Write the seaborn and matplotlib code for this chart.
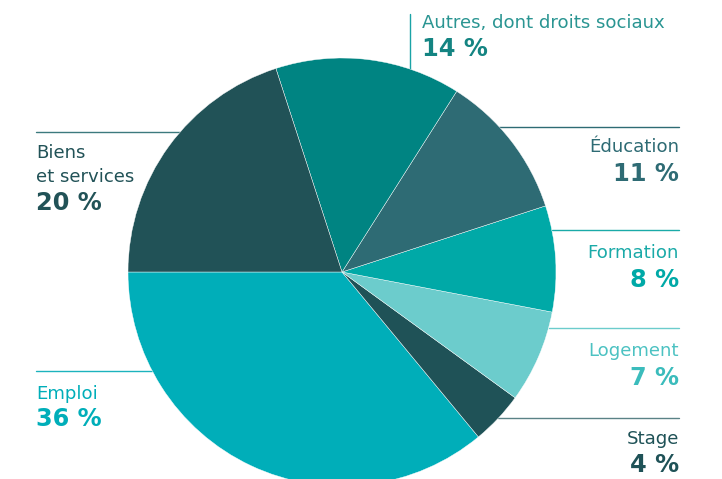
import numpy as np
import matplotlib
matplotlib.use("Agg")
import matplotlib.pyplot as plt
import seaborn as sns

# ---- data ----
categories = ["Emploi", "Stage", "Logement", "Formation", "Éducation",
              "Autres, dont droits sociaux", "Biens\net services"]
values = [36, 4, 7, 8, 11, 14, 20]
slice_colors = ["#00aeb9", "#1f5257", "#6ccccc", "#00a9a7", "#2e6b74",
                "#008482", "#215257"]
pct_labels = ["36 %", "4 %", "7 %", "8 %", "11 %", "14 %", "20 %"]

sns.set_theme(style="white")
plt.rcParams['font.family'] = ['DejaVu Sans']

W, H = 722, 479
fig = plt.figure(figsize=(W / 100, H / 100), dpi=100)
ax = fig.add_axes([0, 0, 1, 1])

def Y(py):
    return H - py

cx, cy, R = 342, 272, 214
ax.pie(values, colors=slice_colors, startangle=180, counterclock=True,
       center=(cx, Y(cy)), radius=R, frame=True,
       wedgeprops=dict(edgecolor="white", linewidth=0.3))
ax.set_xlim(0, W)
ax.set_ylim(0, H)
ax.set_aspect('equal')
ax.axis('off')

def edge_x(py, side):
    dy = py - cy
    return cx + side * np.sqrt(max(R * R - dy * dy, 0))

label_fs = 13.1
pct_fs = 17.3

def put_label(x, ha, lines, baselines, tc, pct, pb, pc):
    for t, b in zip(lines, baselines):
        ax.text(x, Y(b), t, ha=ha, va='baseline', fontsize=label_fs,
                color=tc)
    ax.text(x, Y(pb), pct, ha=ha, va='baseline', fontsize=pct_fs,
            color=pc, fontweight='bold')

# right side labels
right_specs = [
    (4, "#2e6b74", "#2e6b74", "#2e6b74", 127, 152, 181),
    (3, "#1aaaa8", "#00a9a7", "#1aaaa8", 230, 258, 287),
    (2, "#4cc2c2", "#3bbcbc", "#6ccccc", 328, 356, 385),
    (1, "#1f5257", "#1f5257", "#5a8286", 418, 444, 472),
]
for i, tc, pc, lc, ly, tb, pb in right_specs:
    ax.plot([edge_x(ly, 1), 679], [Y(ly), Y(ly)], color=lc, lw=1.0, zorder=0)
    put_label(679, 'right', categories[i].split("\n"), [tb], tc,
              pct_labels[i], pb, pc)

# left side labels
left_specs = [
    (6, "#215257", "#215257", "#3c7a7e", 132, [158, 182], 210),
    (0, "#00aeb9", "#00aeb9", "#1cb3bd", 371, [399], 426),
]
for i, tc, pc, lc, ly, tbs, pb in left_specs:
    ax.plot([36, edge_x(ly, -1)], [Y(ly), Y(ly)], color=lc, lw=1.0, zorder=0)
    put_label(36, 'left', categories[i].split("\n"), tbs, tc,
              pct_labels[i], pb, pc)

# Autres (top, vertical leader)
lx = 410
top_y = cy - np.sqrt(R * R - (lx - cx) ** 2)
ax.plot([lx, lx], [Y(14), Y(top_y)], color="#1aa3a6", lw=1.0, zorder=0)
put_label(422, 'left', [categories[5]], [28], "#2a9592",
          pct_labels[5], 56, "#148482")

fig.savefig("out.png", dpi=100)
